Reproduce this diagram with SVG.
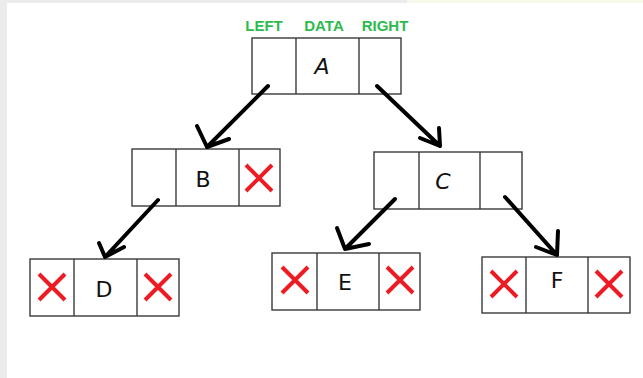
<svg xmlns="http://www.w3.org/2000/svg" width="643" height="378" viewBox="0 0 643 378">
  <style>
    .cell { fill: #ffffff; stroke: #3a3a3a; stroke-width: 1.4; }
    .div { stroke: #3a3a3a; stroke-width: 1.4; }
    .val { font-family: "DejaVu Sans", "Liberation Sans", sans-serif; font-size: 22px; fill: #111111; text-anchor: middle; }
    .hdr { font-family: "Liberation Sans", Arial, sans-serif; font-weight: bold; font-size: 15px; fill: #2dbb4e; text-anchor: middle; }
    .nil { stroke: #ed1c24; stroke-width: 4; stroke-linecap: butt; fill: none; }
    .link { stroke: #000000; stroke-width: 4; stroke-linecap: round; stroke-linejoin: round; fill: none; }
  </style>

  <!-- page background and window edges -->
  <rect x="0" y="0" width="643" height="378" fill="#ffffff"/>
  <rect x="0" y="0" width="7" height="378" fill="#ececec"/>
  <rect x="7" y="0" width="400" height="3" fill="#ececec"/>
  <rect x="407" y="0" width="236" height="3" fill="#f6faea"/>

  <!-- field headings -->
  <g id="headings">
    <text class="hdr" x="264" y="31">LEFT</text>
    <text class="hdr" x="324" y="31">DATA</text>
    <text class="hdr" x="385" y="31">RIGHT</text>
  </g>

  <g id="node-A">
    <rect class="cell" x="252" y="38" width="149" height="56"/>
    <line class="div" x1="296" y1="38" x2="296" y2="94"/>
    <line class="div" x1="359" y1="38" x2="359" y2="94"/>
    <text class="val" x="322" y="74" font-style="italic">A</text>
  </g>

  <g id="node-B">
    <rect class="cell" x="132" y="149" width="148" height="57"/>
    <line class="div" x1="176" y1="149" x2="176" y2="206"/>
    <line class="div" x1="239" y1="149" x2="239" y2="206"/>
    <text class="val" x="203" y="187">B</text>
    <path class="nil" d="M246 165 L272 191 M272 165 L246 191"/>
  </g>

  <g id="node-C">
    <rect class="cell" x="374" y="152" width="148" height="57"/>
    <line class="div" x1="419" y1="152" x2="419" y2="209"/>
    <line class="div" x1="480" y1="152" x2="480" y2="209"/>
    <text class="val" x="443" y="189" font-style="italic">C</text>
  </g>

  <g id="node-D">
    <rect class="cell" x="30" y="259" width="149" height="57"/>
    <line class="div" x1="74" y1="259" x2="74" y2="316"/>
    <line class="div" x1="137" y1="259" x2="137" y2="316"/>
    <text class="val" x="104" y="297">D</text>
    <path class="nil" d="M39 274 L65 300 M65 274 L39 300"/>
    <path class="nil" d="M145 274 L171 300 M171 274 L145 300"/>
  </g>

  <g id="node-E">
    <rect class="cell" x="272" y="253" width="148" height="57"/>
    <line class="div" x1="317" y1="253" x2="317" y2="310"/>
    <line class="div" x1="379" y1="253" x2="379" y2="310"/>
    <text class="val" x="345" y="290">E</text>
    <path class="nil" d="M282 267 L308 293 M308 267 L282 293"/>
    <path class="nil" d="M387 267 L413 293 M413 267 L387 293"/>
  </g>

  <g id="node-F">
    <rect class="cell" x="482" y="257" width="148" height="56"/>
    <line class="div" x1="526" y1="257" x2="526" y2="313"/>
    <line class="div" x1="588" y1="257" x2="588" y2="313"/>
    <text class="val" x="557" y="288">F</text>
    <path class="nil" d="M491 271 L517 297 M517 271 L491 297"/>
    <path class="nil" d="M596 271 L622 297 M622 271 L596 297"/>
  </g>

  <!-- child pointers, drawn as hand-sketched open arrows -->
  <g id="connectors">
    <path class="link" d="M268 86 L207 147 M197 126 L207 147 L229 139"/>
    <path class="link" d="M377 86 L440 146 M439 128 L440 146 L420 138"/>
    <path class="link" d="M158 200 L105 257 M99 243 L105 257 L124 247"/>
    <path class="link" d="M395 199 L345 249 M337 228 L345 249 L369 244"/>
    <path class="link" d="M505 197 L557 255 M558 231 L557 255 L536 247"/>
  </g>
</svg>
